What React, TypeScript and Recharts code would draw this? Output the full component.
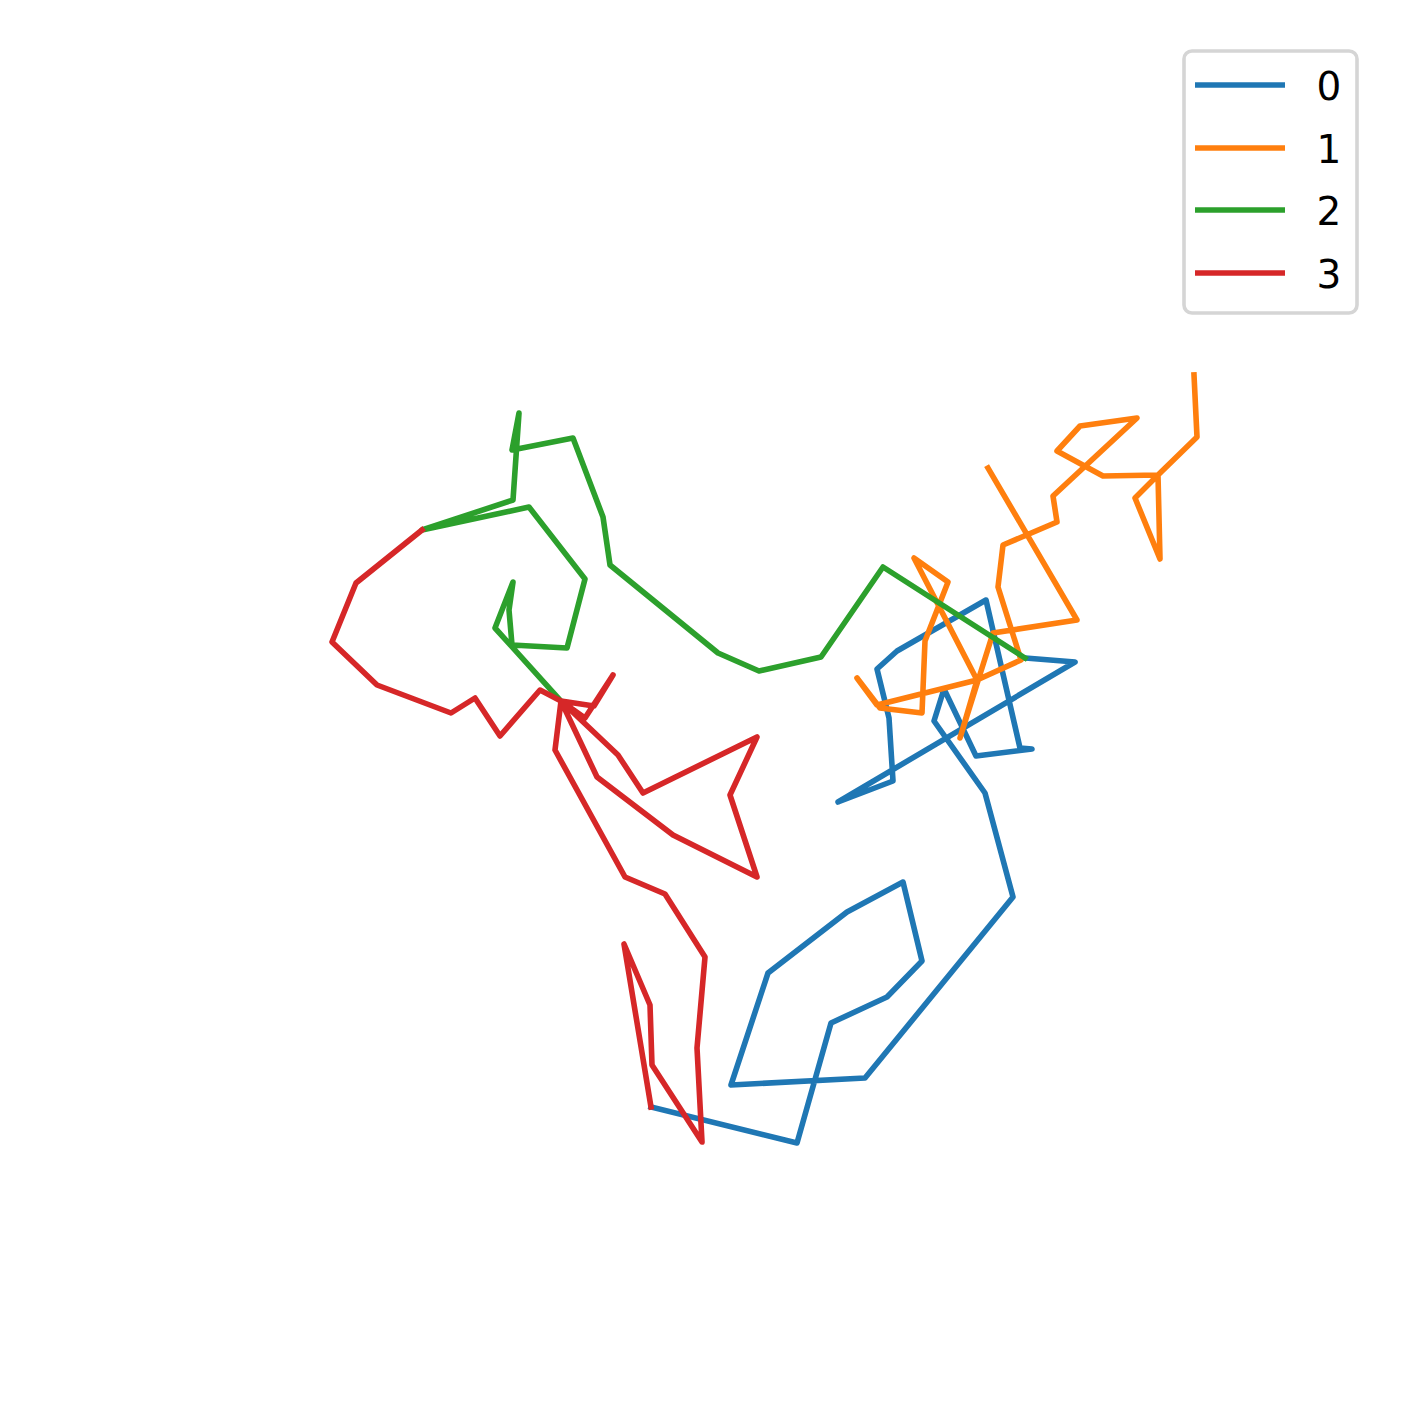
import { ScatterChart, Scatter, XAxis, YAxis, Legend } from 'recharts';

// positions (x to the right, y downward)
const walk0X = [651, 797, 831, 887, 922, 903, 847, 768, 731, 865, 1013, 985, 934, 944, 976, 1032, 1020, 986, 897, 877, 889, 893, 838, 1075, 1025];
const walk0Y = [1107, 1143, 1023, 997, 961, 882, 912, 973, 1085, 1078, 897, 793, 721, 689, 756, 749, 748, 600, 651, 669, 718, 781, 802, 662, 658];

const walk1X = [1194, 1197, 1158, 1135, 1160, 1158, 1103, 1057, 1080, 1137, 1053, 1057, 1003, 998, 1021, 977, 877, 857, 880, 922, 925, 948, 914, 977, 960, 993, 1077, 988];
const walk1Y = [375, 437, 475, 498, 559, 475, 476, 451, 426, 418, 496, 522, 545, 587, 660, 680, 705, 678, 708, 713, 641, 582, 558, 680, 738, 633, 620, 468];

const walk2X = [1025, 883, 821, 759, 718, 610, 603, 573, 512, 519, 513, 422, 529, 585, 567, 512, 509, 513, 495, 560];
const walk2Y = [658, 567, 657, 671, 653, 565, 517, 438, 450, 413, 500, 530, 507, 579, 648, 645, 610, 582, 628, 700];

const walk3X = [422, 356, 332, 377, 451, 475, 500, 540, 561, 594, 613, 585, 561, 618, 643, 757, 730, 757, 673, 597, 561, 555, 625, 665, 705, 697, 702, 652, 650, 624, 651];
const walk3Y = [530, 583, 642, 685, 713, 698, 736, 690, 701, 706, 675, 718, 701, 755, 793, 737, 795, 877, 835, 777, 701, 750, 877, 894, 957, 1048, 1142, 1065, 1005, 944, 1107];

const seriesNames = ['0', '1', '2', '3'];
const colors = ['#1f77b4', '#ff7f0e', '#2ca02c', '#d62728'];

const toPoints = (xs: number[], ys: number[]) => xs.map((x, i) => ({ x, y: ys[i] }));

const walks = [
  toPoints(walk0X, walk0Y),
  toPoints(walk1X, walk1Y),
  toPoints(walk2X, walk2Y),
  toPoints(walk3X, walk3Y),
];

const W = 1409;
const H = 1410;
const LINE_W = 5.6;

function WalkLegend() {
  const rows = [36, 99, 161, 224];
  return (
    <svg width={178} height={268} style={{ display: 'block' }}>
      <rect x={2} y={2} width={173} height={262} rx={8} ry={8} fill="#ffffff" stroke="#d5d5d5" strokeWidth={3.6} />
      {seriesNames.map((name, i) => (
        <g key={name}>
          <line x1={13} x2={103} y1={rows[i]} y2={rows[i]} stroke={colors[i]} strokeWidth={LINE_W} />
          <text
            x={147}
            y={rows[i] + 14.5}
            textAnchor="middle"
            fontFamily="DejaVu Sans"
            fontSize={39}
            fill="#000000"
          >
            {name}
          </text>
        </g>
      ))}
    </svg>
  );
}

export default function App() {
  return (
    <div style={{ position: 'absolute', top: 0, left: 0, width: W, height: H, background: '#ffffff' }}>
      <ScatterChart width={W} height={H} margin={{ top: 0, right: 0, bottom: 0, left: 0 }}>
        <XAxis type="number" dataKey="x" domain={[0, W]} hide height={0} allowDataOverflow />
        <YAxis type="number" dataKey="y" domain={[0, H]} hide width={0} reversed allowDataOverflow />
        {walks.map((pts, i) => (
          <Scatter
            key={seriesNames[i]}
            name={seriesNames[i]}
            data={pts}
            fill={colors[i]}
            stroke={colors[i]}
            strokeWidth={LINE_W}
            line={{ stroke: colors[i], strokeWidth: LINE_W, strokeLinejoin: 'round', strokeLinecap: 'square' }}
            lineType="joint"
            shape={() => <g />}
            isAnimationActive={false}
          />
        ))}
        <Legend
          layout="vertical"
          align="center"
          verticalAlign="middle"
          content={() => <WalkLegend />}
          wrapperStyle={{ position: 'absolute', top: 49, left: 1182, width: 178, height: 268 }}
        />
      </ScatterChart>
    </div>
  );
}
